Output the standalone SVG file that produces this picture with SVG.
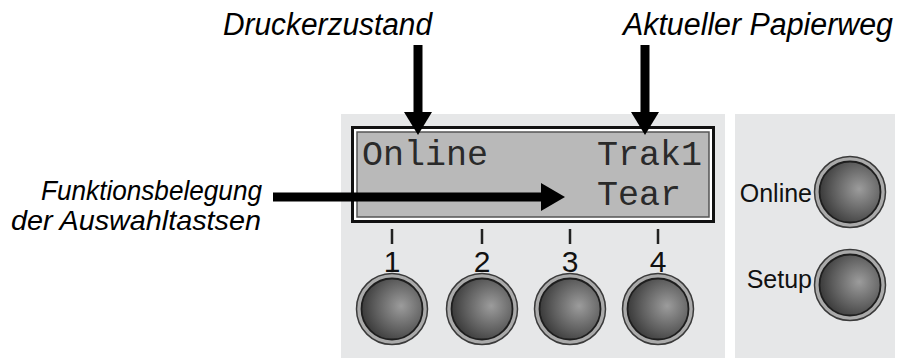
<svg xmlns="http://www.w3.org/2000/svg" width="899" height="358" viewBox="0 0 899 358">
<defs>
<radialGradient id="btn" cx="0.65" cy="0.45" r="0.7">
<stop offset="0" stop-color="#9c9c9c"/>
<stop offset="0.6" stop-color="#5e5e5e"/>
<stop offset="1" stop-color="#333"/>
</radialGradient>
<g id="button">
<circle r="35.5" fill="#aaa" stroke="#3a3a3a" stroke-width="1.5"/>
<circle r="30.5" fill="url(#btn)" stroke="#1e1e1e" stroke-width="1.8"/>
</g>
</defs>
<style>
.panel{fill:#e6e7e8}
.lbl{font-family:"Liberation Sans",Arial,sans-serif;font-style:italic;fill:#000}
.lcd{font-family:"Liberation Mono","Courier New",monospace;font-size:35px;fill:#2a2a2a}
.num{font-family:"Liberation Sans",Arial,sans-serif;font-size:30px;fill:#111;text-anchor:middle}
.key{font-family:"Liberation Sans",Arial,sans-serif;font-size:25px;fill:#111;text-anchor:end}
.tick{stroke:#222;stroke-width:2.5}
.shaft{stroke:#000;stroke-width:9;fill:none}
.head{fill:#000}
</style>
<g id="panel-left">
<rect class="panel" x="341" y="114" width="384" height="244"/>
</g>
<g id="panel-right">
<rect class="panel" x="735" y="114" width="160" height="244"/>
</g>
<g id="lcd">
<rect x="352.5" y="127.5" width="361" height="94" fill="#fff" stroke="#111" stroke-width="3"/>
<rect x="357" y="132" width="352" height="85" fill="#b9b9b9" stroke="#555" stroke-width="1.5"/>
<text class="lcd" x="362" y="165">Online</text>
<text class="lcd" x="597" y="165">Trak1</text>
<text class="lcd" x="597" y="205">Tear</text>
</g>
<g id="key1"><line class="tick" x1="392" y1="229" x2="392" y2="244"/><text class="num" x="392" y="272">1</text><use href="#button" x="392" y="309"/></g>
<g id="key2"><line class="tick" x1="482" y1="229" x2="482" y2="244"/><text class="num" x="482" y="272">2</text><use href="#button" x="482" y="309"/></g>
<g id="key3"><line class="tick" x1="570" y1="229" x2="570" y2="244"/><text class="num" x="570" y="272">3</text><use href="#button" x="570" y="309"/></g>
<g id="key4"><line class="tick" x1="658" y1="229" x2="658" y2="244"/><text class="num" x="658" y="272">4</text><use href="#button" x="658" y="309"/></g>
<g id="key-online"><text class="key" x="812" y="202">Online</text><use href="#button" x="850" y="192"/></g>
<g id="key-setup"><text class="key" x="812" y="288">Setup</text><use href="#button" x="850" y="285"/></g>
<g id="label-druckerzustand"><text class="lbl" x="223" y="35" font-size="31" textLength="209" lengthAdjust="spacingAndGlyphs">Druckerzustand</text></g>
<g id="label-papierweg"><text class="lbl" x="623" y="35" font-size="31" textLength="270" lengthAdjust="spacingAndGlyphs">Aktueller Papierweg</text></g>
<g id="label-funktion">
<text class="lbl" x="41" y="200" font-size="28.5" textLength="221" lengthAdjust="spacingAndGlyphs">Funktionsbelegung</text>
<text class="lbl" x="11" y="230" font-size="28.5" textLength="250" lengthAdjust="spacingAndGlyphs">der Auswahltastsen</text>
</g>
<g id="connectors">
<line class="shaft" x1="418" y1="45" x2="418" y2="114"/>
<polygon class="head" points="404,112 432,112 418,135"/>
<line class="shaft" x1="645" y1="45" x2="645" y2="114"/>
<polygon class="head" points="631,112 659,112 645,135"/>
<line class="shaft" x1="273" y1="197" x2="543" y2="197"/>
<polygon class="head" points="541,183 541,211 565,197"/>
</g>
</svg>
